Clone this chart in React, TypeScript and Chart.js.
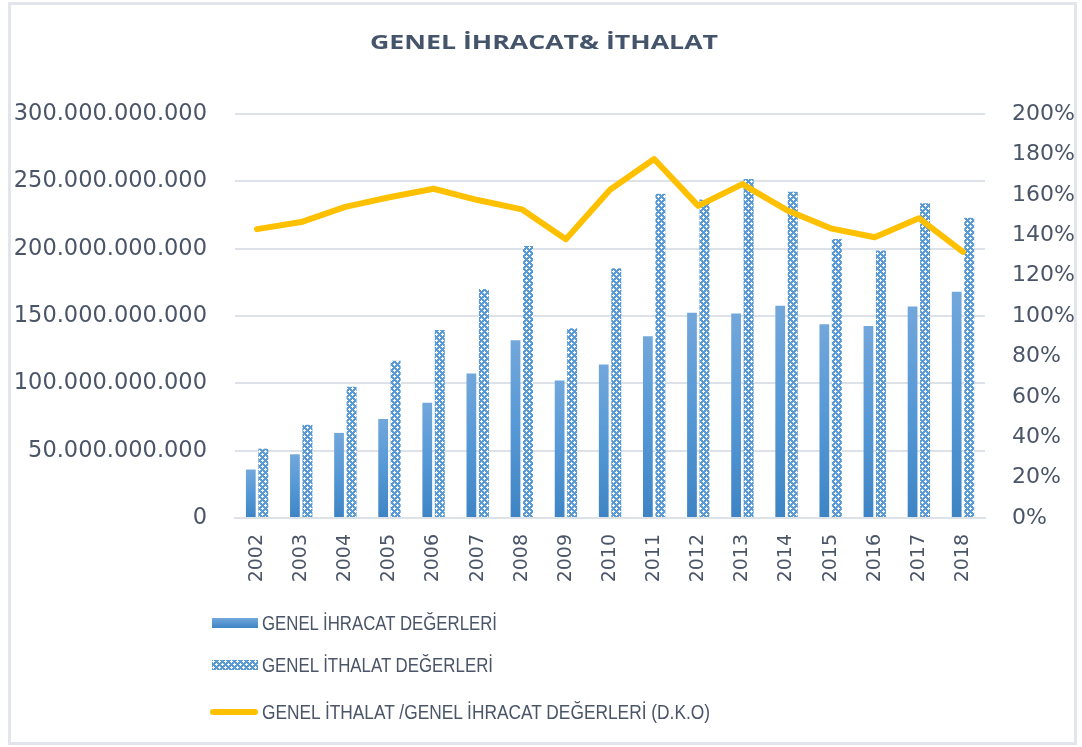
import React, { useEffect, useLayoutEffect, useRef, useMemo } from 'react';
import { Chart, registerables } from 'chart.js';

Chart.register(...registerables);

const years = ['2002', '2003', '2004', '2005', '2006', '2007', '2008', '2009', '2010', '2011', '2012', '2013', '2014', '2015', '2016', '2017', '2018'];
const exportValues = [36.0e9, 47.3e9, 63.2e9, 73.5e9, 85.5e9, 107.3e9, 132.0e9, 102.1e9, 113.9e9, 134.9e9, 152.5e9, 151.8e9, 157.6e9, 143.8e9, 142.5e9, 157.0e9, 168.0e9];
const importValues = [51.5e9, 69.3e9, 97.5e9, 116.8e9, 139.6e9, 170.1e9, 202.0e9, 140.9e9, 185.5e9, 240.8e9, 236.5e9, 251.7e9, 242.2e9, 207.2e9, 198.6e9, 233.8e9, 223.0e9];
const ratioValues = [1.43, 1.465, 1.54, 1.588, 1.63, 1.574, 1.528, 1.38, 1.625, 1.777, 1.545, 1.653, 1.525, 1.434, 1.39, 1.484, 1.318];
const leftTicks = { min: 0, max: 300e9, step: 50e9 };
const rightTicks = { min: 0, max: 2, step: 0.2 };

const TITLE = 'GENEL İHRACAT& İTHALAT';
const LEGEND_EXPORT = 'GENEL İHRACAT DEĞERLERİ';
const LEGEND_IMPORT = 'GENEL İTHALAT DEĞERLERİ';
const LEGEND_RATIO = 'GENEL İTHALAT /GENEL İHRACAT DEĞERLERİ (D.K.O)';

const TEXT = '#4A5568';
const BLUE = '#5B9BD5';
const GOLD = '#FFC000';

function makeTile(): HTMLCanvasElement {
  const c = document.createElement('canvas');
  c.width = 6;
  c.height = 6;
  const g = c.getContext('2d')!;
  g.fillStyle = BLUE;
  g.fillRect(0, 0, 6, 6);
  g.fillStyle = '#ffffff';
  const px = [[1, 0], [0, 1], [1, 1], [2, 1], [1, 2], [4, 3], [3, 4], [4, 4], [5, 4], [4, 5]];
  px.forEach(([x, y]) => g.fillRect(x, y, 1, 1));
  return c;
}

function fmtThousands(v: number): string {
  return Math.round(v).toString().replace(/\B(?=(\d{3})+(?!\d))/g, '.');
}

function FitText(props: { text: string; width: number; style: React.CSSProperties }) {
  const ref = useRef<HTMLSpanElement>(null);
  useLayoutEffect(() => {
    const el = ref.current!;
    el.style.transform = 'none';
    const w = el.getBoundingClientRect().width;
    if (w > 0) el.style.transform = `scaleX(${props.width / w})`;
  }, [props.text, props.width]);
  return (
    <span ref={ref} style={{ position: 'absolute', whiteSpace: 'nowrap', transformOrigin: 'left center', display: 'inline-block', ...props.style }}>
      {props.text}
    </span>
  );
}

export default function App() {
  const ref = useRef<HTMLCanvasElement>(null);
  const tile = useMemo(() => makeTile(), []);
  const tileUrl = useMemo(() => tile.toDataURL(), [tile]);

  useEffect(() => {
    document.body.style.margin = '0';
    const canvas = ref.current!;
    const ctx = canvas.getContext('2d')!;
    const pattern = ctx.createPattern(tile, 'repeat')!;

    const exportFill = (c: any) => {
      const chart = c.chart;
      const ys = chart.scales && chart.scales.y;
      if (!ys || c.raw == null) return BLUE;
      const top = ys.getPixelForValue(c.raw);
      const bottom = ys.getPixelForValue(0);
      if (!isFinite(top) || !isFinite(bottom) || bottom - top < 1) return BLUE;
      const g = chart.ctx.createLinearGradient(0, top, 0, bottom);
      g.addColorStop(0, '#72A7DB');
      g.addColorStop(0.5, '#5598D6');
      g.addColorStop(1, '#3E84C4');
      return g;
    };

    const chart = new Chart(ctx, {
      type: 'bar',
      data: {
        labels: years,
        datasets: [
          {
            type: 'line',
            label: LEGEND_RATIO,
            data: ratioValues,
            yAxisID: 'y1',
            borderColor: GOLD,
            borderWidth: 6,
            pointRadius: 0,
            tension: 0,
            borderCapStyle: 'round',
            borderJoinStyle: 'round',
            order: 0,
          } as any,
          {
            type: 'bar',
            label: LEGEND_EXPORT,
            data: exportValues,
            yAxisID: 'y',
            backgroundColor: exportFill,
            borderWidth: 0,
            categoryPercentage: 0.567,
            barPercentage: 0.78,
            order: 1,
          } as any,
          {
            type: 'bar',
            label: LEGEND_IMPORT,
            data: importValues,
            yAxisID: 'y',
            backgroundColor: pattern,
            borderWidth: 0,
            categoryPercentage: 0.567,
            barPercentage: 0.8,
            order: 2,
          } as any,
        ],
      },
      options: {
        animation: false,
        responsive: false,
        devicePixelRatio: 1,
        layout: { padding: { top: 114, left: 0, right: 0, bottom: 0 } },
        plugins: {
          legend: { display: false },
          title: { display: false },
          tooltip: { enabled: false },
        },
        scales: {
          x: {
            type: 'category',
            grid: { display: false, drawTicks: false },
            border: { display: true, color: '#DDE1E8', width: 2 },
            ticks: {
              autoSkip: false,
              maxRotation: 90,
              minRotation: 90,
              padding: 16,
              color: TEXT,
              font: { family: 'DejaVu Sans', size: 19 },
            },
            afterFit: (s: any) => { s.height = 229; },
          },
          y: {
            type: 'linear',
            position: 'left',
            min: leftTicks.min,
            max: leftTicks.max,
            grid: { color: '#DDE1E8', lineWidth: 2, drawTicks: false },
            border: { display: false },
            ticks: {
              stepSize: leftTicks.step,
              padding: 28,
              color: TEXT,
              font: { family: 'DejaVu Sans', size: 22.5 },
              callback: (v: any) => fmtThousands(Number(v)),
            },
            afterFit: (s: any) => { s.width = 235; },
          },
          y1: {
            type: 'linear',
            position: 'right',
            min: rightTicks.min,
            max: rightTicks.max,
            grid: { display: false, drawTicks: false },
            border: { display: false },
            ticks: {
              stepSize: rightTicks.step,
              padding: 27,
              color: TEXT,
              font: { family: 'DejaVu Sans', size: 22 },
              callback: (v: any) => Math.round(Number(v) * 100) + '%',
            },
            afterFit: (s: any) => { s.width = 97; },
          },
        },
      } as any,
    });
    return () => chart.destroy();
  }, [tile]);

  const legendText: React.CSSProperties = {
    left: 262,
    fontFamily: "'Liberation Sans', sans-serif",
    fontSize: 20,
    color: TEXT,
    lineHeight: '24px',
  };

  return (
    <div style={{ position: 'relative', width: 1082, height: 747, background: '#fff', overflow: 'hidden' }}>
      <canvas ref={ref} width={1082} height={747} style={{ position: 'absolute', left: 0, top: 0, display: 'block' }} />
      <div style={{ position: 'absolute', left: 8, top: 2, width: 1063, height: 737, border: '3px solid #E2E5EB', pointerEvents: 'none' }} />
      <FitText text={TITLE} width={348} style={{ left: 370, top: 28, fontFamily: "'Open Sans', sans-serif", fontWeight: 700, fontSize: 20, color: '#44546A', lineHeight: '28px' }} />

      <div style={{ position: 'absolute', left: 212, top: 618, width: 46, height: 10, background: 'linear-gradient(#72A7DB, #3E84C4)' }} />
      <FitText text={LEGEND_EXPORT} width={235} style={{ ...legendText, top: 611 }} />

      <div style={{ position: 'absolute', left: 212, top: 660, width: 46, height: 10, backgroundImage: `url(${tileUrl})` }} />
      <FitText text={LEGEND_IMPORT} width={231} style={{ ...legendText, top: 653 }} />

      <div style={{ position: 'absolute', left: 210, top: 709, width: 48, height: 6, borderRadius: 3, background: GOLD }} />
      <FitText text={LEGEND_RATIO} width={448} style={{ ...legendText, top: 700 }} />
    </div>
  );
}
